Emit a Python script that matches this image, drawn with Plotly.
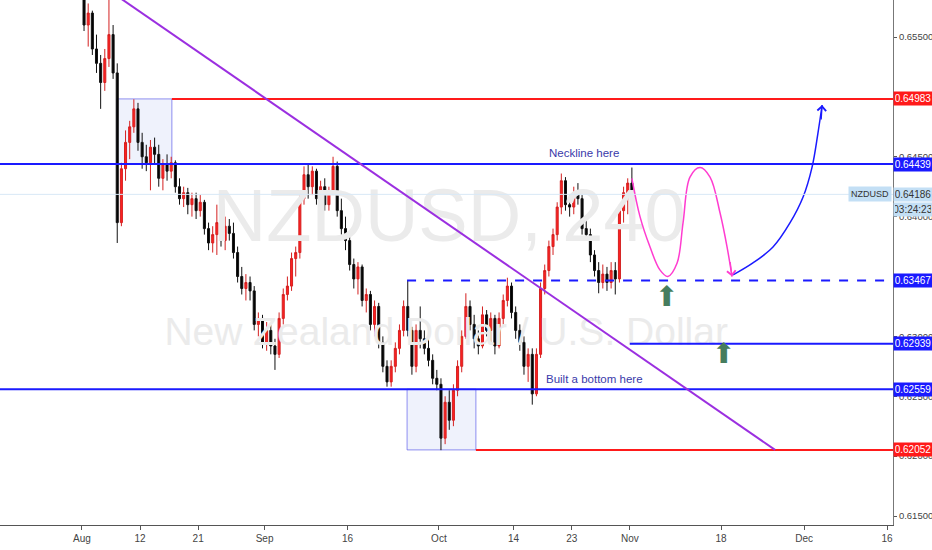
import pandas as pd
import plotly.graph_objects as go

# NZDUSD, 12h bars (Aug 1 - Nov 1 2019)
opens = [0.6590, 0.6560, 0.6570, 0.6540, 0.6528, 0.6512, 0.6532, 0.6552, 0.6520, 0.6395,
         0.6440, 0.6462, 0.6475, 0.6490, 0.6462, 0.6450, 0.6445, 0.6458, 0.6452, 0.6432,
         0.6444, 0.6438, 0.6445, 0.6425, 0.6415, 0.6420, 0.6410, 0.6415, 0.6405, 0.6412,
         0.6390, 0.6378, 0.6385, 0.6395, 0.6380, 0.6392, 0.6386, 0.6370, 0.6350, 0.6340,
         0.6345, 0.6338, 0.6310, 0.6315, 0.6295, 0.6305, 0.6292, 0.6285, 0.6315, 0.6335,
         0.6342, 0.6365, 0.6370, 0.6415, 0.6435, 0.6425, 0.6438, 0.6415, 0.6425, 0.6410,
         0.6420, 0.6442, 0.6405, 0.6390, 0.6380, 0.6360, 0.6348, 0.6358, 0.6330, 0.6335,
         0.6310, 0.6325, 0.6295, 0.6275, 0.6262, 0.6275, 0.6290, 0.6305, 0.6325, 0.6305,
         0.6275, 0.6305, 0.6298, 0.6290, 0.6280, 0.6265, 0.6260, 0.6215, 0.6245, 0.6230,
         0.6255, 0.6275, 0.6300, 0.6325, 0.6310, 0.6298, 0.6292, 0.6318, 0.6305, 0.6315,
         0.6292, 0.6315, 0.6330, 0.6342, 0.6320, 0.6305, 0.6295, 0.6275, 0.6285, 0.6252,
         0.6285, 0.6340, 0.6355, 0.6375, 0.6385, 0.6408, 0.6430, 0.6410, 0.6408, 0.6420,
         0.6415, 0.6390, 0.6385, 0.6368, 0.6355, 0.6345, 0.6352, 0.6345, 0.6355, 0.6348,
         0.6405, 0.6420, 0.6428]
highs = [0.6600, 0.6578, 0.6572, 0.6552, 0.6535, 0.6540, 0.6581, 0.6560, 0.6528, 0.6445,
         0.6472, 0.6480, 0.6498, 0.6495, 0.6470, 0.6460, 0.6464, 0.6466, 0.6460, 0.6448,
         0.6452, 0.6450, 0.6447, 0.6432, 0.6425, 0.6424, 0.6420, 0.6420, 0.6418, 0.6414,
         0.6395, 0.6392, 0.6410, 0.6405, 0.6400, 0.6398, 0.6395, 0.6375, 0.6358, 0.6352,
         0.6350, 0.6342, 0.6320, 0.6318, 0.6312, 0.6310, 0.6298, 0.6320, 0.6340, 0.6350,
         0.6370, 0.6375, 0.6420, 0.6442, 0.6444, 0.6442, 0.6440, 0.6430, 0.6432, 0.6425,
         0.6450, 0.6446, 0.6415, 0.6400, 0.6388, 0.6365, 0.6362, 0.6360, 0.6340, 0.6338,
         0.6330, 0.6328, 0.6300, 0.6280, 0.6280, 0.6295, 0.6310, 0.6330, 0.6347, 0.6308,
         0.6310, 0.6325, 0.6305, 0.6300, 0.6285, 0.6272, 0.6265, 0.6250, 0.6255, 0.6260,
         0.6280, 0.6305, 0.6336, 0.6330, 0.6318, 0.6305, 0.6325, 0.6322, 0.6320, 0.6318,
         0.6320, 0.6335, 0.6349, 0.6345, 0.6325, 0.6310, 0.6300, 0.6290, 0.6290, 0.6290,
         0.6345, 0.6360, 0.6380, 0.6390, 0.6412, 0.6436, 0.6433, 0.6418, 0.6425, 0.6428,
         0.6418, 0.6400, 0.6390, 0.6372, 0.6362, 0.6360, 0.6358, 0.6362, 0.6362, 0.6410,
         0.6425, 0.6432, 0.6441]
lows = [0.6555, 0.6542, 0.6535, 0.6520, 0.6490, 0.6505, 0.6525, 0.6515, 0.6378, 0.6392,
        0.6430, 0.6448, 0.6470, 0.6455, 0.6440, 0.6438, 0.6422, 0.6444, 0.6425, 0.6422,
        0.6430, 0.6432, 0.6420, 0.6410, 0.6408, 0.6402, 0.6400, 0.6398, 0.6400, 0.6385,
        0.6372, 0.6370, 0.6368, 0.6375, 0.6372, 0.6380, 0.6365, 0.6345, 0.6335, 0.6330,
        0.6330, 0.6305, 0.6300, 0.6290, 0.6288, 0.6285, 0.6272, 0.6282, 0.6310, 0.6330,
        0.6338, 0.6350, 0.6365, 0.6410, 0.6415, 0.6418, 0.6410, 0.6408, 0.6405, 0.6405,
        0.6418, 0.6400, 0.6385, 0.6372, 0.6355, 0.6340, 0.6335, 0.6325, 0.6320, 0.6305,
        0.6300, 0.6290, 0.6270, 0.6258, 0.6258, 0.6270, 0.6285, 0.6300, 0.6300, 0.6268,
        0.6270, 0.6290, 0.6285, 0.6275, 0.6260, 0.6255, 0.6205, 0.6210, 0.6222, 0.6225,
        0.6250, 0.6270, 0.6298, 0.6305, 0.6290, 0.6285, 0.6290, 0.6300, 0.6295, 0.6285,
        0.6290, 0.6310, 0.6325, 0.6315, 0.6298, 0.6288, 0.6268, 0.6262, 0.6243, 0.6250,
        0.6282, 0.6335, 0.6350, 0.6368, 0.6380, 0.6402, 0.6405, 0.6400, 0.6402, 0.6410,
        0.6385, 0.6380, 0.6362, 0.6350, 0.6336, 0.6340, 0.6338, 0.6340, 0.6335, 0.6345,
        0.6395, 0.6402, 0.6415]
closes = [0.6560, 0.6570, 0.6540, 0.6528, 0.6512, 0.6532, 0.6552, 0.6520, 0.6395, 0.6440,
          0.6462, 0.6475, 0.6490, 0.6462, 0.6450, 0.6445, 0.6458, 0.6452, 0.6432, 0.6444,
          0.6438, 0.6445, 0.6425, 0.6415, 0.6420, 0.6410, 0.6415, 0.6405, 0.6412, 0.6390,
          0.6378, 0.6385, 0.6395, 0.6380, 0.6392, 0.6386, 0.6370, 0.6350, 0.6340, 0.6345,
          0.6338, 0.6310, 0.6315, 0.6295, 0.6305, 0.6292, 0.6285, 0.6315, 0.6335, 0.6342,
          0.6365, 0.6370, 0.6415, 0.6435, 0.6425, 0.6438, 0.6415, 0.6425, 0.6410, 0.6420,
          0.6442, 0.6405, 0.6390, 0.6380, 0.6360, 0.6348, 0.6358, 0.6330, 0.6335, 0.6310,
          0.6325, 0.6295, 0.6275, 0.6262, 0.6275, 0.6290, 0.6305, 0.6325, 0.6305, 0.6275,
          0.6305, 0.6298, 0.6290, 0.6280, 0.6265, 0.6260, 0.6215, 0.6245, 0.6230, 0.6255,
          0.6275, 0.6300, 0.6325, 0.6310, 0.6298, 0.6292, 0.6318, 0.6305, 0.6315, 0.6292,
          0.6315, 0.6330, 0.6342, 0.6320, 0.6305, 0.6295, 0.6275, 0.6285, 0.6252, 0.6285,
          0.6340, 0.6355, 0.6375, 0.6385, 0.6408, 0.6430, 0.6410, 0.6408, 0.6420, 0.6415,
          0.6390, 0.6385, 0.6368, 0.6355, 0.6345, 0.6352, 0.6345, 0.6355, 0.6348, 0.6405,
          0.6420, 0.6428, 0.6419]

# time axis labels
tick_dates = ["2019-08-01", "2019-08-12", "2019-08-21", "2019-09-02", "2019-09-16", "2019-10-01",
              "2019-10-14", "2019-10-23", "2019-11-01", "2019-11-18", "2019-12-02", "2019-12-16"]
tick_text = ["Aug", "12", "21", "Sep", "16", "Oct", "14", "23", "Nov", "18", "Dec", "16"]
x_range = ["2019-07-18 03:00", "2019-12-16 17:00"]
y_range = [0.61425, 0.65809]

# drawn levels: (price, start, color, dash)
levels = [
    (0.64983, "2019-08-15 20:00", "#ff1a1a", "solid"),
    (0.64439, "2019-07-01", "#1a1aff", "solid"),
    (0.63467, "2019-09-25 04:00", "#1a1aff", "dash"),
    (0.62939, "2019-11-01 00:00", "#1a1aff", "solid"),
    (0.62559, "2019-07-01", "#1a1aff", "solid"),
    (0.62052, "2019-10-07 11:00", "#ff1a1a", "solid"),
]
boxes = [
    ("2019-08-07 05:00", "2019-08-15 20:00", 0.64439, 0.64983),
    ("2019-09-25 04:00", "2019-10-07 11:00", 0.62052, 0.62559),
]
trend_x = ["2019-08-07 12:00", "2019-11-26 12:00"]
trend_y = [0.6583, 0.62052]

# projected path (hand drawing)
pink_x = ["2019-11-01 06:00", "2019-11-04 05:30", "2019-11-05 10:00", "2019-11-06 15:00",
          "2019-11-07 14:00", "2019-11-08 16:30", "2019-11-11 10:00", "2019-11-12 06:00",
          "2019-11-13 11:00", "2019-11-14 16:00", "2019-11-15 21:00", "2019-11-18 17:00",
          "2019-11-19 07:30"]
pink_y = [0.6432, 0.6400, 0.6375, 0.63555, 0.6350, 0.6361, 0.6395, 0.6433,
          0.6441, 0.6433, 0.6403, 0.6375, 0.6350]
blue_x = ["2019-11-19 10:30", "2019-11-21 20:00", "2019-11-26 06:00", "2019-11-28 07:00",
          "2019-11-29 21:00", "2019-12-02 23:00", "2019-12-03 16:00", "2019-12-04 04:00"]
blue_y = [0.63513, 0.63613, 0.63746, 0.63947, 0.64164, 0.64414, 0.64698, 0.64932]
up_arrows = [("2019-11-07 09:00", 0.63329), ("2019-11-18 08:00", 0.62861)]

last_price = 0.64186
countdown = "03:24:23"

days = pd.bdate_range("2019-08-01", "2019-11-01")
bar_times = []
for d in days:
    bar_times.append(d + pd.Timedelta(hours=6))
    bar_times.append(d + pd.Timedelta(hours=18))
bar_times = bar_times[:len(closes)]

FONT = "Liberation Sans, Arial, sans-serif"

fig = go.Figure()

# watermark behind the candles
fig.add_trace(go.Scatter(
    x=["2019-10-02 06:00", "2019-10-01 21:00"], y=[0.63950, 0.63011],
    mode="text", text=["NZDUSD, 240", "New Zealand Dollar / U.S. Dollar"],
    textposition="middle center",
    textfont=dict(family=FONT, size=[74, 39], color="#ebebeb"),
    hoverinfo="skip"))

fig.add_trace(go.Candlestick(
    x=bar_times, open=opens, high=highs, low=lows, close=closes,
    increasing=dict(fillcolor="#ff2020", line=dict(color="#d42020", width=1)),
    decreasing=dict(fillcolor="#000000", line=dict(color="#111111", width=1)),
    whiskerwidth=0))

fig.add_trace(go.Scatter(x=pink_x, y=pink_y, mode="lines", line=dict(color="#ff3cd0", width=1.5, shape="spline"),
                         hoverinfo="skip"))
fig.add_trace(go.Scatter(x=blue_x, y=blue_y, mode="lines", line=dict(color="#1a1aff", width=1.5, shape="spline"),
                         hoverinfo="skip"))

for x0, x1, y0, y1 in boxes:
    fig.add_shape(type="rect", x0=x0, x1=x1, y0=y0, y1=y1, xref="x", yref="y",
                  fillcolor="rgba(120,150,230,0.12)", line=dict(color="rgba(70,70,230,0.6)", width=1),
                  layer="below")

fig.add_shape(type="line", x0="2019-07-01", x1="2019-12-31", y0=last_price, y1=last_price,
              line=dict(color="#d8e8f6", width=1))

for price, start, color, dash in levels:
    fig.add_shape(type="line", x0=start, x1="2019-12-31", y0=price, y1=price,
                  line=dict(color=color, width=2, dash=dash))

fig.add_shape(type="line", x0=trend_x[0], x1=trend_x[1], y0=trend_y[0], y1=trend_y[1],
              line=dict(color="#9b2fe0", width=2))

anns = []
# arrow heads of the drawing
anns.append(dict(x=pink_x[-1], y=pink_y[-1], xref="x", yref="y", text="", showarrow=True,
                 ax=-2, ay=-16, arrowhead=4, arrowsize=1.3, arrowwidth=1.3, arrowcolor="#ff3cd0"))
anns.append(dict(x=blue_x[-1], y=blue_y[-1], xref="x", yref="y", text="", showarrow=True,
                 ax=-1, ay=16, arrowhead=4, arrowsize=1.3, arrowwidth=1.3, arrowcolor="#1a1aff"))
for ax_, ay_ in up_arrows:
    anns.append(dict(x=ax_, y=ay_, xref="x", yref="y", text="⬆", showarrow=False,
                     font=dict(family="DejaVu Sans", size=28, color="#467d5e")))

anns.append(dict(x="2019-10-24 12:00", y=0.64439, xref="x", yref="y", yanchor="bottom", yshift=3,
                 text="Neckline here", showarrow=False,
                 font=dict(family="Liberation Sans", size=11.5, color="#3a3aaa")))
anns.append(dict(x="2019-10-25 18:00", y=0.62559, xref="x", yref="y", yanchor="bottom", yshift=2,
                 text="Built a bottom here", showarrow=False,
                 font=dict(family="Liberation Sans", size=11.5, color="#3a3aaa")))

# price labels on the axis
for price, start, color, dash in levels:
    anns.append(dict(x=1, y=price, xref="paper", yref="y", xanchor="left", yanchor="middle",
                     text=f"{price:.5f}", showarrow=False, bgcolor=color, width=36, borderpad=1,
                     font=dict(family="Liberation Sans", size=10, color="white")))
anns.append(dict(x=1, y=last_price, xref="paper", yref="y", xanchor="left", yanchor="middle",
                 text=f"{last_price:.5f}", showarrow=False, bgcolor="#c3dff5", width=36, borderpad=1,
                 font=dict(family="Liberation Sans", size=10, color="#333333")))
anns.append(dict(x=1, y=last_price, xref="paper", yref="y", xanchor="left", yanchor="middle", yshift=-15,
                 text=countdown, showarrow=False, bgcolor="#c3dff5", width=36, borderpad=1,
                 font=dict(family="Liberation Sans", size=10, color="#333333")))
anns.append(dict(x=1, y=last_price, xref="paper", yref="y", xanchor="right", yanchor="middle", xshift=-1,
                 text="NZDUSD", showarrow=False, bgcolor="#c3dff5", borderpad=2,
                 font=dict(family="Liberation Sans", size=9, color="#333333")))

fig.update_layout(
    width=932, height=550,
    margin=dict(l=0, r=39, t=0, b=25, autoexpand=False),
    plot_bgcolor="white", paper_bgcolor="white",
    showlegend=False,
    annotations=anns,
    font=dict(family="Liberation Sans", size=10, color="#444444"),
)
fig.update_xaxes(
    range=x_range, rangeslider_visible=False, showgrid=False, zeroline=False,
    rangebreaks=[dict(bounds=["sat", "mon"])], automargin=False,
    tickmode="array", tickvals=tick_dates, ticktext=tick_text,
    ticks="outside", ticklen=4, tickcolor="#555555",
    showline=True, linecolor="#555555", linewidth=1,
    tickfont=dict(size=10, color="#444444"),
)
fig.update_yaxes(
    range=y_range, side="right", showgrid=False, zeroline=False, automargin=False,
    tick0=0.615, dtick=0.005, tickformat=".5f",
    ticks="outside", ticklen=3, tickcolor="#555555",
    showline=True, linecolor="#777777", linewidth=1,
    tickfont=dict(size=9.5, color="#444444"),
)

fig.write_html("out.html", config={"displayModeBar": False},
               post_script="document.body.style.margin='0';document.body.style.overflow='hidden';")
